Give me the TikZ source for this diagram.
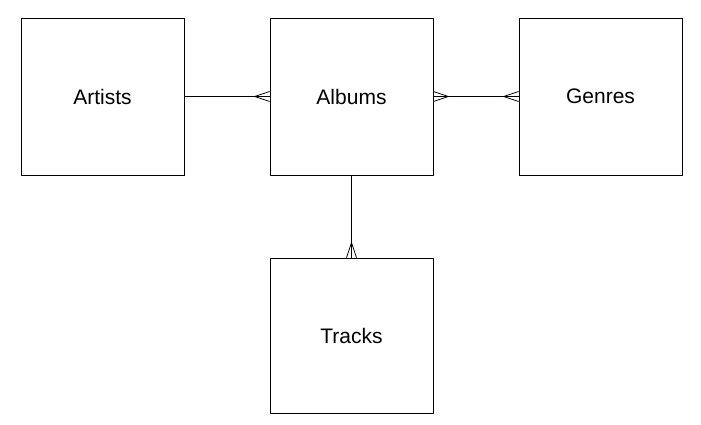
\documentclass[tikz,border=0pt]{standalone}
\usepackage{fontspec}
\setmainfont{Liberation Sans}
\usetikzlibrary{calc}
\begin{document}
\begin{tikzpicture}[x=1pt,y=-1pt,
  entity/.style={draw, line width=0.8pt, minimum width=163pt, minimum height=157pt, font=\fontsize{21}{25}\selectfont, inner sep=0pt},
  link/.style={line width=0.8pt}]
\useasboundingbox (0,0) rectangle (701,424);
\node[entity] (art) at (102.5,96.5) {Artists};
\node[entity] (alb) at (351.5,96.5) {Albums};
\node[entity] (gen) at (600.5,96.5) {Genres};
\node[entity, minimum height=155pt] (trk) at (351.5,335.5) {Tracks};
% Artists - Albums
\draw[link] (art.east) -- (alb.west);
\draw[link] ($(alb.west)+(-15,0)$) -- ($(alb.west)+(0,-5)$);
\draw[link] ($(alb.west)+(-15,0)$) -- ($(alb.west)+(0,5)$);
% Albums - Genres
\draw[link] (alb.east) -- (gen.west);
\draw[link] ($(alb.east)+(15,0)$) -- ($(alb.east)+(0,-5)$);
\draw[link] ($(alb.east)+(15,0)$) -- ($(alb.east)+(0,5)$);
\draw[link] ($(gen.west)+(-15,0)$) -- ($(gen.west)+(0,-5)$);
\draw[link] ($(gen.west)+(-15,0)$) -- ($(gen.west)+(0,5)$);
% Albums - Tracks
\draw[link] (alb.south) -- (trk.north);
\draw[link] ($(trk.north)+(0,-15)$) -- ($(trk.north)+(-5,0)$);
\draw[link] ($(trk.north)+(0,-15)$) -- ($(trk.north)+(5,0)$);
\end{tikzpicture}
\end{document}
